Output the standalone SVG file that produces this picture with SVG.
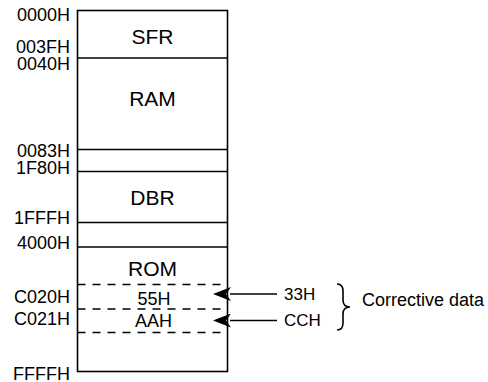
<svg xmlns="http://www.w3.org/2000/svg" width="488" height="382" viewBox="0 0 488 382">
<defs>
<style>
.ln{stroke:#000;stroke-width:1.6;fill:none}
.ds{stroke:#000;stroke-width:1.6;fill:none;stroke-dasharray:8 7}
.addr{font-family:"Liberation Sans",Arial,sans-serif;font-size:18px;fill:#000;text-anchor:end}
.lbl{font-family:"Liberation Sans",Arial,sans-serif;font-size:21px;fill:#000;text-anchor:middle}
.sm{font-family:"Liberation Sans",Arial,sans-serif;font-size:18px;fill:#000;text-anchor:middle}
.t{font-family:"Liberation Sans",Arial,sans-serif;font-size:17px;fill:#000}
</style>
<marker id="ah" viewBox="0 0 18 14" refX="1" refY="7" markerWidth="18" markerHeight="14" markerUnits="userSpaceOnUse" orient="auto">
<path d="M18,7 L0,0 L5,7 L0,14 Z" fill="#000"/>
</marker>
</defs>
<rect width="488" height="382" fill="#fff"/>
<g id="memory-map">
<rect class="ln" x="77.5" y="10.5" width="150" height="361"/>
<line class="ln" x1="77.5" y1="58" x2="227.5" y2="58"/>
<line class="ln" x1="77.5" y1="149.5" x2="227.5" y2="149.5"/>
<line class="ln" x1="77.5" y1="171.5" x2="227.5" y2="171.5"/>
<line class="ln" x1="77.5" y1="222.5" x2="227.5" y2="222.5"/>
<line class="ln" x1="77.5" y1="247" x2="227.5" y2="247"/>
<line class="ds" x1="77.5" y1="284.5" x2="227.5" y2="284.5"/>
<line class="ds" x1="77.5" y1="309" x2="227.5" y2="309"/>
<line class="ds" x1="77.5" y1="332.5" x2="227.5" y2="332.5"/>
</g>
<g id="region-labels">
<text class="lbl" x="152.5" y="44">SFR</text>
<text class="lbl" x="152.5" y="106">RAM</text>
<text class="lbl" x="152.5" y="205">DBR</text>
<text class="lbl" x="152.5" y="276">ROM</text>
<text class="sm" x="154" y="305">55H</text>
<text class="sm" x="153.5" y="327">AAH</text>
</g>
<g id="address-labels">
<text class="addr" x="70" y="21">0000H</text>
<text class="addr" x="70" y="53">003FH</text>
<text class="addr" x="70" y="70">0040H</text>
<text class="addr" x="70" y="157">0083H</text>
<text class="addr" x="70" y="174">1F80H</text>
<text class="addr" x="70" y="224">1FFFH</text>
<text class="addr" x="70" y="249">4000H</text>
<text class="addr" x="70" y="303">C020H</text>
<text class="addr" x="70" y="325">C021H</text>
<text class="addr" x="70" y="380">FFFFH</text>
</g>
<g id="connectors">
<line class="ln" x1="277" y1="294" x2="230" y2="294" marker-end="url(#ah)"/>
<line class="ln" x1="277" y1="320.5" x2="230" y2="320.5" marker-end="url(#ah)"/>
<path class="ln" d="M337,284 Q343,284 343,291 L343,300 Q343,307 350,307 Q343,307 343,314 L343,323 Q343,330 337,330"/>
</g>
<g id="corrective">
<text class="t" x="284" y="300">33H</text>
<text class="t" x="284" y="326">CCH</text>
<text class="addr" style="text-anchor:start" x="362" y="306">Corrective data</text>
</g>
</svg>
